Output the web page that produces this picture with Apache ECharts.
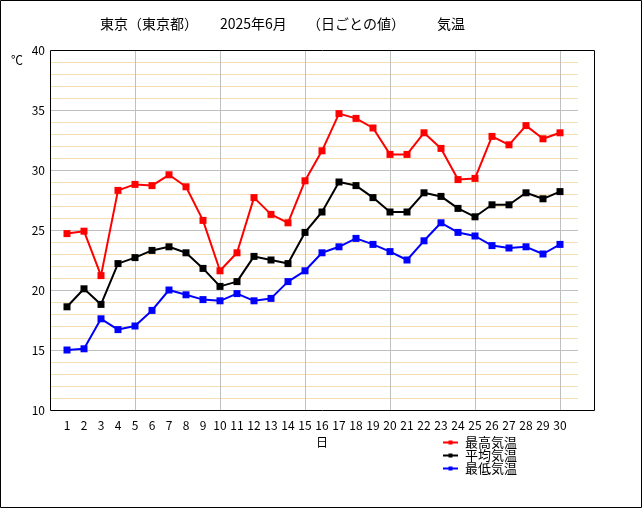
<!DOCTYPE html>
<html>
<head>
<meta charset="utf-8">
<script src="https://cdn.jsdelivr.net/npm/echarts@6/dist/echarts.min.js"></script>
<style>
  html, body { margin: 0; padding: 0; background: #fff; }
  #chart { width: 644px; height: 510px; }
</style>
</head>
<body>
<div id="chart"></div>
<script>
const days = [1,2,3,4,5,6,7,8,9,10,11,12,13,14,15,16,17,18,19,20,21,22,23,24,25,26,27,28,29,30]
const maxTemp = [24.7,24.9,21.2,28.3,28.8,28.7,29.6,28.6,25.8,21.6,23.1,27.7,26.3,25.6,29.1,31.6,34.7,34.3,33.5,31.3,31.3,33.1,31.8,29.2,29.3,32.8,32.1,33.7,32.6,33.1]
const avgTemp = [18.6,20.1,18.8,22.2,22.7,23.3,23.6,23.1,21.8,20.3,20.7,22.8,22.5,22.2,24.8,26.5,29.0,28.7,27.7,26.5,26.5,28.1,27.8,26.8,26.1,27.1,27.1,28.1,27.6,28.2]
const minTemp = [15.0,15.1,17.6,16.7,17.0,18.3,20.0,19.6,19.2,19.1,19.7,19.1,19.3,20.7,21.6,23.1,23.6,24.3,23.8,23.2,22.5,24.1,25.6,24.8,24.5,23.7,23.5,23.6,23.0,23.8]
const seriesNames = ['最高気温', '平均気温', '最低気温']
const seriesColors = ['#ff0000', '#000000', '#0000ff']

const font = 'Noto Sans CJK JP'
const chart = echarts.init(document.getElementById('chart'))

const toPairs = arr => arr.map((v, i) => [days[i], v])

const option = {
  animation: false,
  textStyle: { fontFamily: font, color: '#000' },
  graphic: [
    // outer frame and plot frame
    { type: 'rect', shape: { x: 0.5, y: 0.5, width: 641, height: 507 }, style: { fill: 'none', stroke: '#000', lineWidth: 1 }, z: 100 },
    { type: 'rect', shape: { x: 50.5, y: 50.5, width: 544, height: 360 }, style: { fill: 'none', stroke: '#000', lineWidth: 1 }, z: 100 },
    { type: 'text', left: 100, top: 17, style: { text: '東京（東京都）', font: '14px "Noto Sans CJK JP"', fill: '#000' } },
    { type: 'text', left: 220, top: 17, style: { text: '2025年6月', font: '14px "Noto Sans CJK JP"', fill: '#000' } },
    { type: 'text', left: 307, top: 17, style: { text: '（日ごとの値）', font: '14px "Noto Sans CJK JP"', fill: '#000' } },
    { type: 'text', left: 437, top: 17, style: { text: '気温', font: '14px "Noto Sans CJK JP"', fill: '#000' } },
    { type: 'text', left: 11, top: 54, style: { text: '℃', font: '12px "Noto Sans CJK JP"', fill: '#000' } }
  ],
  legend: {
    data: seriesNames,
    orient: 'vertical',
    left: 442,
    top: 436,
    padding: 0,
    itemGap: 0,
    itemWidth: 15,
    itemHeight: 5,
    textStyle: { fontFamily: font, fontSize: 13, lineHeight: 13, color: '#000', padding: [0, 0, 0, 2] }
  },
  grid: [
    { left: 50, top: 50, width: 544, height: 360, show: false },
    { left: 50, top: 50, width: 528, height: 360, show: false }
  ],
  xAxis: [
    {
      type: 'value', gridIndex: 0, min: 0, max: 32, interval: 1,
      name: '日', nameLocation: 'middle', nameGap: 26,
      nameTextStyle: { fontFamily: font, fontSize: 12, color: '#000' },
      axisLine: { show: false }, axisTick: { show: false },
      axisLabel: {
        margin: 9, fontSize: 12, color: '#000', fontFamily: font,
        formatter: v => (v >= 1 && v <= 30 ? String(v) : '')
      },
      splitLine: { show: false }
    },
    {
      type: 'value', gridIndex: 0, min: 0, max: 32, interval: 5, position: 'bottom',
      axisLine: { show: false }, axisTick: { show: false }, axisLabel: { show: false },
      splitLine: { show: true, showMinLine: false, showMaxLine: false, lineStyle: { color: '#c0c0c0', width: 1 } }
    },
    {
      type: 'value', gridIndex: 1, min: 0, max: 31, show: false
    }
  ],
  yAxis: [
    {
      type: 'value', gridIndex: 0, min: 10, max: 40, interval: 5,
      axisLine: { show: false }, axisTick: { show: false },
      axisLabel: { margin: 5, fontSize: 12, color: '#000', fontFamily: font },
      splitLine: { show: false }
    },
    {
      type: 'value', gridIndex: 1, min: 10, max: 40, interval: 5,
      axisLine: { show: false }, axisTick: { show: false }, axisLabel: { show: false },
      splitLine: { show: true, showMinLine: false, showMaxLine: false, lineStyle: { color: '#c0c0c0', width: 1 } },
      minorTick: { show: false, splitNumber: 5 },
      minorSplitLine: { show: true, lineStyle: { color: '#f5deb3', width: 1 } }
    }
  ],
  series: [maxTemp, avgTemp, minTemp].map((arr, i) => ({
    name: seriesNames[i],
    type: 'line',
    xAxisIndex: 0,
    yAxisIndex: 0,
    data: toPairs(arr),
    symbol: 'rect',
    symbolSize: 7,
    color: seriesColors[i],
    lineStyle: { width: 2, color: seriesColors[i] },
    itemStyle: { color: seriesColors[i] },
    z: 10
  }))
}

chart.setOption(option)
</script>
</body>
</html>
